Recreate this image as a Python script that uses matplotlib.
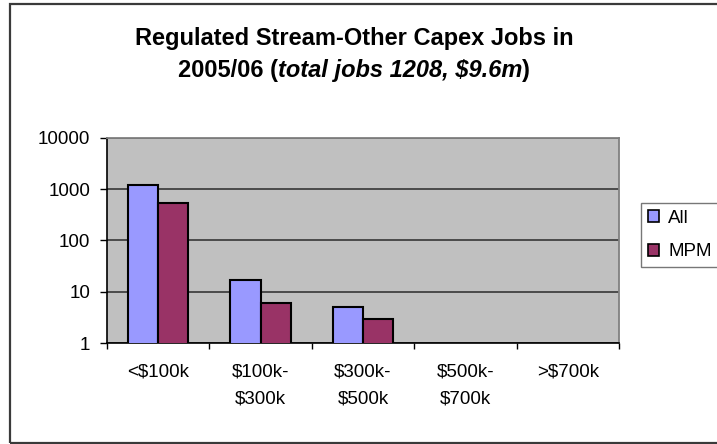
import numpy as np
import matplotlib
matplotlib.use("Agg")
import matplotlib.pyplot as plt
from matplotlib.patches import Rectangle, Patch

plt.rcParams['font.family'] = ['Liberation Sans', 'DejaVu Sans']

# Job counts per capex band (bands with no jobs are left empty)
categories = ["<$100k", "$100k-\n$300k", "$300k-\n$500k", "$500k-\n$700k", ">$700k"]
all_jobs = [1186, 17, 5, np.nan, np.nan]
mpm_jobs = [540, 6, 3, np.nan, np.nan]
series_names = ["All", "MPM"]
y_ticks = [1, 10, 100, 1000, 10000]
y_tick_labels = ["1", "10", "100", "1000", "10000"]
title_line1 = "Regulated Stream-Other Capex Jobs in"
title_line2 = ["2005/06 (", "total jobs 1208, $9.6m", ")"]

W, H = 717, 444
fig = plt.figure(figsize=(W / 100, H / 100), dpi=100)
fig.patch.set_facecolor("white")

# chart frame
fig.patches.append(Rectangle((10 / W, 1 - 443 / H), 720 / W, 439 / H,
                             transform=fig.transFigure, fill=False,
                             edgecolor="#3a3a3a", linewidth=1.6))

left, right, top, bottom = 107, 619, 138, 343
ax = fig.add_axes([left / W, 1 - bottom / H, (right - left) / W, (bottom - top) / H])
ax.set_facecolor("#C0C0C0")

x = np.arange(len(categories))
bw = 0.295
ax.bar(x - bw / 2, all_jobs, bw, color="#9999FF", edgecolor="black", linewidth=1.5, zorder=3)
ax.bar(x + bw / 2, mpm_jobs, bw, color="#993366", edgecolor="black", linewidth=1.5, zorder=3)

ax.set_yscale("log")
ax.set_ylim(1, 10000)
ax.set_xlim(-0.5, len(categories) - 0.5)
ax.set_yticks(y_ticks)
ax.set_yticklabels(y_tick_labels)
ax.yaxis.set_minor_locator(matplotlib.ticker.NullLocator())
ax.yaxis.grid(True, color="#2a2a2a", linewidth=1.1, zorder=1)
ax.set_axisbelow(True)

ax.set_xticks(x)
ax.set_xticklabels(categories, linespacing=1.75, va="top")
ax.set_xticks(np.arange(len(categories) + 1) - 0.5, minor=True)
ax.tick_params(axis="x", which="major", length=0, pad=15, labelsize=13.5)
ax.tick_params(axis="x", which="minor", length=4, width=1.0, color="black", direction="out")
ax.tick_params(axis="y", which="major", length=5, width=1.0, color="black", direction="out",
               labelsize=13.5, pad=7)

for s in ["top", "right"]:
    ax.spines[s].set_color("#808080")
    ax.spines[s].set_linewidth(1.3)
for s in ["left", "bottom"]:
    ax.spines[s].set_color("black")
    ax.spines[s].set_linewidth(1.2)

# title: bold first line, second line with a bold-italic aside
title_cx = 354
title_fs = 17
fig.text(title_cx / W, 1 - 38 / H, title_line1,
         ha="center", va="center", fontsize=title_fs, fontweight="bold")

renderer = fig.canvas.get_renderer()
styles = ["normal", "italic", "normal"]
pieces = []
for txt, st in zip(title_line2, styles):
    t = fig.text(0, 1 - 71 / H, txt, ha="left", va="center", fontsize=title_fs,
                 fontweight="bold", fontstyle=st)
    pieces.append(t)
widths = [p.get_window_extent(renderer).width for p in pieces]
xpos = title_cx - sum(widths) / 2
for p, w in zip(pieces, widths):
    p.set_x(xpos / W)
    xpos += w

handles = [Patch(facecolor="#9999FF", edgecolor="black", linewidth=1.2),
           Patch(facecolor="#993366", edgecolor="black", linewidth=1.2)]
leg = fig.legend(handles, series_names, loc="upper left",
                 bbox_to_anchor=(641 / W, 1 - 203 / H), borderaxespad=0,
                 fontsize=13.5, frameon=True, fancybox=False,
                 handlelength=0.6, handleheight=0.6,
                 handletextpad=0.5, labelspacing=0.9, borderpad=0.35)
leg.get_frame().set_edgecolor("#555555")
leg.get_frame().set_linewidth(1.0)

fig.savefig("out.png", dpi=100)
